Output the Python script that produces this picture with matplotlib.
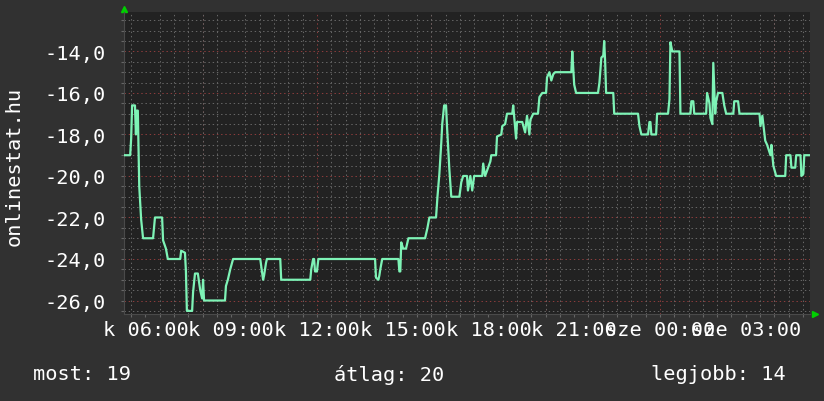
import numpy as np
import matplotlib
matplotlib.use("Agg")
import matplotlib.pyplot as plt
from matplotlib.ticker import FixedLocator, MultipleLocator

# minutes after the start of the window (05:15 on Tuesday) and the measured value
minutes = [0, 13, 15, 17, 23, 25, 27, 29, 32, 36, 40, 61, 65, 80, 82, 88, 92, 118, 120, 128,
           130, 132, 143, 145, 149, 155, 160, 164, 166, 168, 212, 214, 218, 223, 229, 286, 292, 294, 298, 300,
           328, 330, 391, 393, 397, 399, 401, 405, 408, 527, 529, 534, 536, 538, 542, 576, 578, 580, 582, 586,
           592, 597, 632, 637, 641, 655, 658, 662, 666, 668, 672, 676, 678, 683, 687, 704, 708, 712, 720, 722,
           727, 731, 735, 752, 754, 758, 769, 771, 781, 783, 792, 794, 800, 804, 815, 817, 823, 825, 836, 842,
           846, 851, 853, 859, 869, 872, 878, 886, 888, 893, 897, 901, 905, 939, 941, 945, 949, 995, 998, 1002,
           1006, 1008, 1010, 1012, 1027, 1029, 1079, 1082, 1086, 1100, 1103, 1105, 1107, 1117, 1119, 1142, 1145, 1147, 1151, 1166,
           1168, 1189, 1191, 1195, 1197, 1222, 1224, 1229, 1231, 1235, 1237, 1241, 1243, 1247, 1256, 1260, 1264, 1279, 1281, 1289,
           1292, 1334, 1336, 1340, 1342, 1346, 1350, 1357, 1359, 1363, 1369, 1388, 1390, 1399, 1401, 1409, 1411, 1420, 1422, 1426,
           1428, 1440]
values = [-19, -19, -18.2, -16.6, -16.6, -18, -16.85, -16.85, -20.5, -22.1, -23, -23, -22, -22, -23.1, -23.5, -24, -24, -23.6, -23.7,
          -24.6, -26.5, -26.5, -25.6, -24.7, -24.7, -25.5, -25.9, -25, -26, -26, -25.3, -25, -24.5, -24, -24, -25, -24.8, -24.2, -24,
          -24, -25, -25, -24.5, -24, -24, -24.6, -24.6, -24, -24, -24.9, -25, -24.8, -24.5, -24, -24, -24.6, -24.6, -23.2, -23.5,
          -23.5, -23, -23, -22.5, -22, -22, -21, -19.9, -18.4, -17.5, -16.6, -16.6, -17.6, -19.7, -21, -21, -20.3, -20, -20, -20.7,
          -20, -20.7, -20, -20, -19.4, -20, -19.3, -19, -19, -18.1, -18, -17.6, -17.5, -17, -17, -16.6, -18.2, -17.4, -17.4, -17.9,
          -17.1, -18, -17.3, -17, -17, -16.2, -16, -16, -15.25, -15, -15.4, -15.1, -15, -15, -14, -15.6, -16, -16, -15.5, -14.3,
          -14.2, -13.5, -14.5, -16, -16, -17, -17, -17.6, -18, -18, -17.4, -17.4, -18, -18, -17, -17, -16.3, -13.56, -14, -14,
          -17, -17, -16.4, -16.4, -17, -17, -16, -16.5, -17.2, -17.5, -14.55, -17, -16.4, -16, -16, -16.6, -17, -17, -16.4, -16.4,
          -17, -17, -17.6, -17.1, -17.5, -18.3, -18.5, -19, -18.5, -19.5, -20, -20, -19, -19, -19.6, -19.6, -19, -19, -20, -19.9,
          -19, -19]

start_hour = 5.25
label_hours = [6, 9, 12, 15, 18, 21, 24, 27]
label_texts = ["k 06:00", "k 09:00", "k 12:00", "k 15:00", "k 18:00", "k 21:00", "sze 00:00", "sze 03:00"]
y_ticks = [-26, -24, -22, -20, -18, -16, -14]
y_label = "onlinestat.hu"
summary = ["most: 19", "átlag: 20", "legjobb: 14"]

bg = "#313131"
plot_bg = "#222222"
line_color = "#7ef3b6"
minor_color = "#666666"
major_color = "#8c3c3c"
font = "DejaVu Sans Mono"

hours = start_hour + np.array(minutes) / 60.0

fig = plt.figure(figsize=(8.24, 4.02), dpi=100, facecolor=bg)
ax = fig.add_axes([124 / 824, 87 / 402, 686 / 824, 302 / 402])
ax.set_facecolor(plot_bg)

ax.plot(hours, values, color=line_color, lw=1.6, zorder=3)

ax.set_xlim(start_hour, start_hour + 24)
ax.set_ylim(-26.65, -12.1)

# grid: minor every half hour / half unit, major red lines every 4 hours / 2 units
dots = (0, (1.4, 2.8))
ax.xaxis.set_minor_locator(MultipleLocator(0.5))
ax.yaxis.set_minor_locator(MultipleLocator(0.5))
ax.grid(which="minor", color=minor_color, ls=dots, lw=0.72)
for h in range(8, 30, 4):
    ax.axvline(h, color=major_color, ls=dots, lw=0.72, zorder=1)
for v in y_ticks:
    ax.axhline(v, color=major_color, ls=dots, lw=0.72, zorder=1)

ax.xaxis.set_major_locator(FixedLocator(label_hours))
ax.set_xticklabels(label_texts)
ax.set_yticks(y_ticks)
ax.set_yticklabels([("%.1f" % v).replace(".", ",") for v in y_ticks])

ax.tick_params(axis="both", which="both", colors=minor_color, length=2, width=0.8,
               labelcolor="white", labelsize=14.6)
ax.tick_params(axis="x", which="major", pad=2)
ax.tick_params(axis="y", which="major", pad=11)
for lab in ax.get_xticklabels() + ax.get_yticklabels():
    lab.set_family(font)

for side in ["top", "right"]:
    ax.spines[side].set_visible(False)
for side in ["bottom", "left"]:
    ax.spines[side].set_color("#4a4a4a")

# the little green arrows at the axis ends
ax.plot([0], [1.01], marker="^", color="#00d000", ms=4, transform=ax.transAxes, clip_on=False)
ax.plot([1.007], [0], marker=">", color="#00d000", ms=4, transform=ax.transAxes, clip_on=False)

fig.text(14 / 824, 1 - 166 / 402, y_label, rotation=90, ha="center", va="center",
         color="white", fontsize=14.6, family=font)
fig.text(33 / 824, 1 - 375 / 402, summary[0], ha="left", va="center", color="white", fontsize=14.6, family=font)
fig.text(334 / 824, 1 - 375 / 402, summary[1], ha="left", va="center", color="white", fontsize=14.6, family=font)
fig.text(651 / 824, 1 - 375 / 402, summary[2], ha="left", va="center", color="white", fontsize=14.6, family=font)

fig.savefig("out.png", dpi=100, facecolor=bg)
